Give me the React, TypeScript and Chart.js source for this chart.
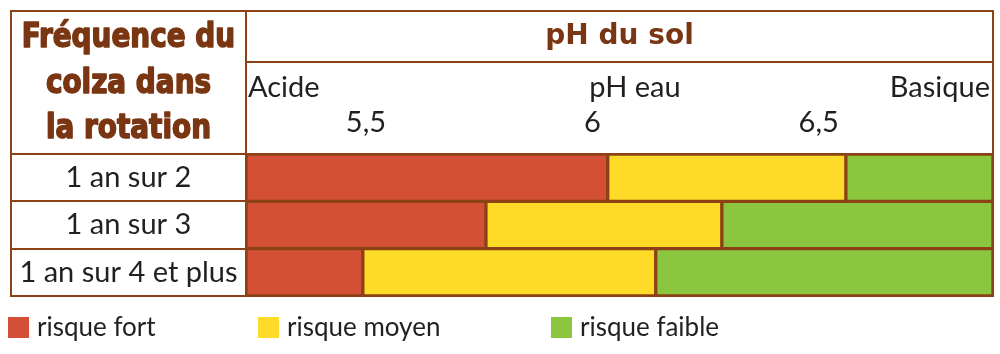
import React, { useEffect, useRef } from 'react';
import { Chart, registerables } from 'chart.js';

Chart.register(...registerables);

// ---------- data ----------
const categories = ['1 an sur 2', '1 an sur 3', '1 an sur 4 et plus'];
const seriesLabels = ['risque fort', 'risque moyen', 'risque faible'];
const phAxisMin = 5.235;
const phAxisMax = 6.885;
const strongRiskEnd = [6.034, 5.765, 5.493];
const mediumRiskEnd = [6.56, 6.286, 6.14];
const tickValues = [5.5, 6, 6.5];
const tickLabels = ['5,5', '6', '6,5'];
const headerLabels = ['Acide', 'pH eau', 'Basique'];
const axisTitle = 'pH du sol';
const rowHeaderLines = ['Fréquence du', 'colza dans', 'la rotation'];

// ---------- styles ----------
const BROWN = '#8C4215';
const BROWN_TEXT = '#7A3612';
const INK = '#231F20';
const RED = '#D34F36';
const YELLOW = '#FEDB29';
const GREEN = '#8CC63F';
const FAMILY = 'Lato';
const BODY_SIZE = 29;
const LEGEND_SIZE = 26;

const framePlugin = {
  id: 'tableFrame',
  beforeDatasetsDraw(chart: any) {
    const { ctx, chartArea } = chart;
    const xs = chart.scales.x;
    const ys = chart.scales.y;
    const left = ys.left;
    const top = xs.top;
    const right = chartArea.right;
    const bottom = chartArea.bottom;
    ctx.save();
    ctx.strokeStyle = BROWN;
    ctx.lineWidth = 2;
    ctx.beginPath();
    ctx.rect(left, top, right - left, bottom - top);
    ctx.moveTo(chartArea.left, top);
    ctx.lineTo(chartArea.left, bottom);
    ctx.moveTo(chartArea.left, top + 51);
    ctx.lineTo(right, top + 51);
    ctx.moveTo(left, chartArea.top);
    ctx.lineTo(right, chartArea.top);
    for (let i = 0; i < categories.length - 1; i++) {
      const y = Math.round((ys.getPixelForValue(i) + ys.getPixelForValue(i + 1)) / 2);
      ctx.moveTo(left, y);
      ctx.lineTo(right, y);
    }
    ctx.stroke();
    ctx.restore();
  },
  afterDraw(chart: any) {
    const { ctx, chartArea } = chart;
    const xs = chart.scales.x;
    const ys = chart.scales.y;
    ctx.save();
    // sub-header labels
    ctx.fillStyle = INK;
    ctx.font = `${BODY_SIZE}px ${FAMILY}`;
    ctx.textBaseline = 'alphabetic';
    const hy = xs.top + 86;
    ctx.textAlign = 'left';
    ctx.fillText(headerLabels[0], chartArea.left + 2, hy);
    ctx.textAlign = 'center';
    ctx.fillText(headerLabels[1], 635, hy);
    ctx.textAlign = 'right';
    ctx.fillText(headerLabels[2], chartArea.right - 3, hy);

    // row header (left column), heavy condensed
    ctx.fillStyle = BROWN_TEXT;
    ctx.strokeStyle = BROWN_TEXT;
    ctx.lineWidth = 1.4;
    ctx.lineJoin = 'round';
    ctx.font = `bold 31px 'DejaVu Sans Condensed'`;
    ctx.textAlign = 'center';
    const cx = (ys.left + chartArea.left) / 2;
    rowHeaderLines.forEach((line, i) => {
      const by = xs.top + 36 + i * 45.5;
      ctx.save();
      ctx.translate(cx, by);
      ctx.scale(1, 1.1);
      ctx.fillText(line, 0, 0);
      ctx.strokeText(line, 0, 0);
      ctx.restore();
    });

    // legend
    const legendX = [8, 258, 551];
    chart.data.datasets.forEach((ds: any, i: number) => {
      const x = legendX[i];
      ctx.fillStyle = ds.backgroundColor;
      ctx.fillRect(x, 317, 21, 21);
      ctx.fillStyle = INK;
      ctx.font = `${LEGEND_SIZE}px ${FAMILY}`;
      ctx.textAlign = 'left';
      ctx.fillText(ds.label, x + 29, 336);
    });
    ctx.restore();
  },
};

export default function App() {
  const canvasRef = useRef<HTMLCanvasElement | null>(null);

  useEffect(() => {
    const canvas = canvasRef.current;
    if (!canvas) return;

    const mctx = document.createElement('canvas').getContext('2d')!;
    mctx.font = `${BODY_SIZE}px ${FAMILY}`;
    const widest = Math.max(...categories.map((c) => mctx.measureText(c).width));
    const yPad = 117.5 - widest / 2;

    const colors = [RED, YELLOW, GREEN];
    const ranges = [
      strongRiskEnd.map((e) => [phAxisMin, e]),
      strongRiskEnd.map((s, i) => [s, mediumRiskEnd[i]]),
      mediumRiskEnd.map((s) => [s, phAxisMax]),
    ];

    const chart = new Chart(canvas, {
      type: 'bar',
      data: {
        labels: categories,
        datasets: seriesLabels.map((label, i) => ({
          label,
          data: ranges[i] as any,
          backgroundColor: colors[i],
          borderColor: BROWN,
          borderWidth: 2,
          borderSkipped: false,
          grouped: false,
          categoryPercentage: 1,
          barPercentage: 1,
        })),
      },
      options: {
        indexAxis: 'y',
        animation: false,
        responsive: false,
        layout: { padding: { left: 11, top: 11, right: 7, bottom: 58 } },
        plugins: {
          legend: { display: false },
          tooltip: { enabled: false },
        },
        scales: {
          x: {
            type: 'linear',
            position: 'top',
            min: phAxisMin,
            max: phAxisMax,
            afterBuildTicks: (s: any) => {
              s.ticks = tickValues.map((v) => ({ value: v }));
            },
            afterFit: (s: any) => {
              s.height = 143;
              s.paddingLeft = 0;
              s.paddingRight = 0;
            },
            ticks: {
              autoSkip: false,
              maxRotation: 0,
              padding: 14,
              color: INK,
              font: { family: FAMILY, size: BODY_SIZE },
              callback: (v: any) => {
                const idx = tickValues.indexOf(Number(v));
                return idx >= 0 ? tickLabels[idx] : '';
              },
            },
            grid: { display: false, drawTicks: false },
            border: { display: false },
            title: {
              display: true,
              text: axisTitle,
              color: BROWN_TEXT,
              font: { family: 'DejaVu Sans', weight: 'bold', size: 28 },
              padding: { top: 9, bottom: 0 },
            },
          },
          y: {
            type: 'category',
            offset: true,
            afterFit: (s: any) => {
              s.width = 235;
              s.paddingTop = 0;
              s.paddingBottom = 0;
            },
            ticks: {
              crossAlign: 'center',
              padding: yPad,
              color: INK,
              font: { family: FAMILY, size: BODY_SIZE },
            },
            grid: { display: false, drawTicks: false },
            border: { display: false },
          },
        },
      } as any,
      plugins: [framePlugin],
    });

    return () => chart.destroy();
  }, []);

  return (
    <div style={{ position: 'absolute', left: 0, top: 0, width: 1000, height: 354, background: '#fff' }}>
      <canvas ref={canvasRef} width={1000} height={354} />
    </div>
  );
}
